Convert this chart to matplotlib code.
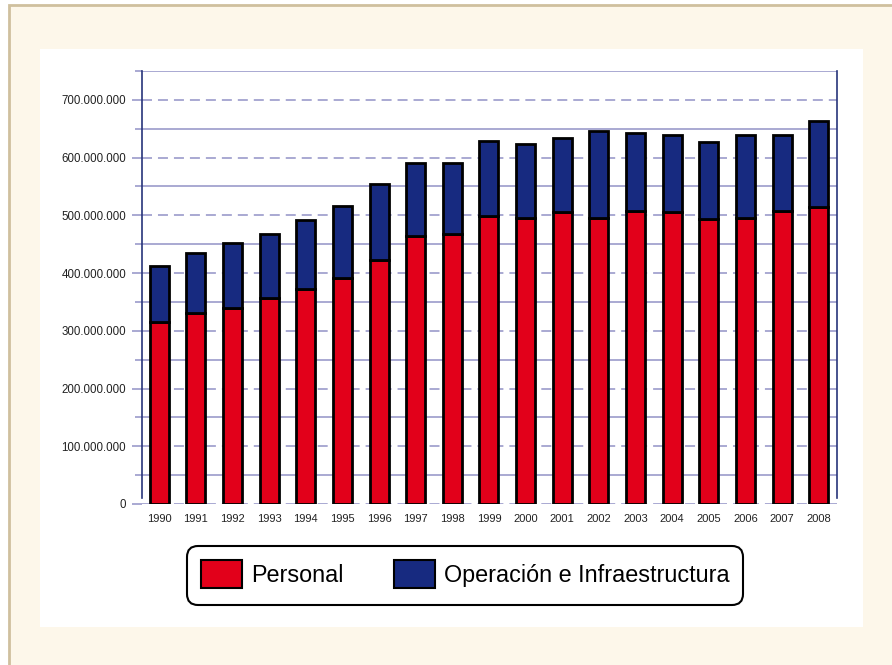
import matplotlib
matplotlib.use("Agg")
import matplotlib.pyplot as plt
from matplotlib.patches import Rectangle, FancyBboxPatch, Patch
from matplotlib.transforms import IdentityTransform
from matplotlib.ticker import FuncFormatter, MultipleLocator

plt.rcParams['font.family'] = ['Liberation Sans', 'DejaVu Sans']
plt.rcParams['lines.scale_dashes'] = False

# ---- data (millions) ----
years = ["1990", "1991", "1992", "1993", "1994", "1995", "1996", "1997", "1998", "1999",
         "2000", "2001", "2002", "2003", "2004", "2005", "2006", "2007", "2008"]
personal = [316, 330, 340, 356, 373, 391, 422, 464, 467, 499,
            495, 505, 496, 508, 506, 493, 495, 508, 515]
operacion = [95.5, 104.5, 111.5, 112.5, 118.5, 125.5, 131.5, 127.5, 123.5, 129.5,
             128.5, 128.5, 149.5, 134.5, 132.5, 134.5, 144.5, 131.5, 148.5]
series_names = ["Personal", "Operación e Infraestructura"]

RED = "#e2001a"
BLUE = "#172a80"
LAV = "#a3a3cf"
NAVY = "#27357a"

W, H = 892, 665
fig = plt.figure(figsize=(W / 100, H / 100), dpi=100)
fig.patch.set_facecolor("white")

# outer cream frame with tan border
fig.patches.append(Rectangle((8.5 / W, -0.02), 1.05, 1 - 4.5 / H + 0.02,
                             transform=fig.transFigure, facecolor="#fdf7ea",
                             edgecolor="#cfc09e", lw=2.0, zorder=-10))
# white panel
fig.patches.append(Rectangle((40 / W, (H - 627) / H), (863 - 40) / W, (627 - 49) / H,
                             transform=fig.transFigure, facecolor="white",
                             edgecolor="none", zorder=-9))

ax = fig.add_axes([142 / W, (H - 504) / H, (837 - 142) / W, (504 - 71) / H])
ax.set_facecolor("none")

x = list(range(len(years)))
pers_vals = [v * 1e6 for v in personal]
oper_vals = [v * 1e6 for v in operacion]
ax.bar(x, pers_vals, width=0.52, color=RED, edgecolor="black", linewidth=2.0, zorder=3)
ax.bar(x, oper_vals, width=0.52, bottom=pers_vals, color=BLUE, edgecolor="black",
       linewidth=2.0, zorder=3)

ax.set_xlim(-0.47, 18.5)
ax.set_ylim(0, 750e6)
ax.set_xticks(x)
ax.set_xticklabels(years, fontsize=8, color="#222222")
ax.tick_params(axis="x", length=0, pad=7)

ax.yaxis.set_major_locator(MultipleLocator(100e6))
ax.yaxis.set_minor_locator(MultipleLocator(50e6))
ax.yaxis.set_major_formatter(FuncFormatter(lambda v, p: f"{v:,.0f}".replace(",", ".")))
ax.tick_params(axis="y", which="major", length=7.5, width=1.3, color=LAV,
               labelsize=8.3, labelcolor="#222222", pad=4)
ax.tick_params(axis="y", which="minor", length=5, width=1.3, color=LAV)

ax.grid(which="major", axis="y", linestyle=(0, (7.2, 4.3)), color=LAV, lw=1.3, zorder=1)
ax.grid(which="minor", axis="y", linestyle="-", color=LAV, lw=1.3, zorder=1)
ax.set_axisbelow(True)

fig.canvas.draw()
ax.get_ygridlines()[0].set_color(NAVY)
ax.yaxis.get_major_ticks()[0].tick1line.set_color(NAVY)

for s in ["top", "bottom"]:
    ax.spines[s].set_visible(False)
for s in ["left", "right"]:
    ax.spines[s].set_color(NAVY)
    ax.spines[s].set_linewidth(1.2)
    ax.spines[s].set_bounds(10e6, 750e6)

# legend box
box = FancyBboxPatch((187, H - 605), 743 - 187, 605 - 546,
                     boxstyle="round,pad=0,rounding_size=11",
                     transform=IdentityTransform(), facecolor="white",
                     edgecolor="black", lw=1.5, zorder=5)
fig.patches.append(box)

handles = [Patch(facecolor=RED, edgecolor="black", lw=1.5),
           Patch(facecolor=BLUE, edgecolor="black", lw=1.5)]
leg = fig.legend(handles, series_names, loc="center left",
                 bbox_to_anchor=(201 / W, (H - 574) / H), bbox_transform=fig.transFigure,
                 ncol=2, frameon=False, fontsize=16.8, borderpad=0, borderaxespad=0,
                 handlelength=1.76, handleheight=1.46, handletextpad=0.38,
                 columnspacing=2.15)
leg.set_zorder(6)

fig.savefig("out.png", dpi=100, facecolor=fig.get_facecolor())
